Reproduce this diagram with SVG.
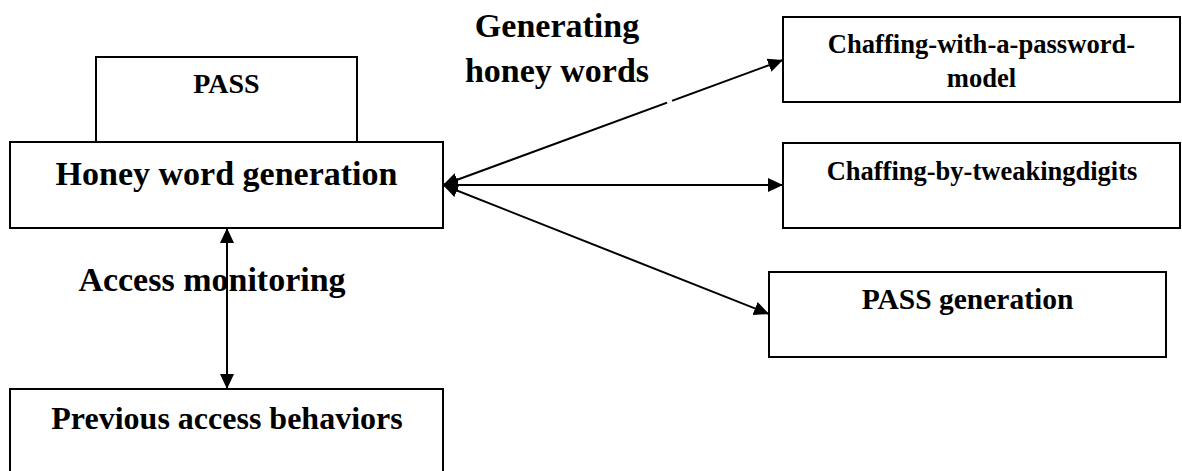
<svg xmlns="http://www.w3.org/2000/svg" width="1182" height="471" viewBox="0 0 1182 471">
<style>
.box{fill:#fff;stroke:#000;stroke-width:2}
.t{font-family:"Liberation Serif","Times New Roman",serif;font-weight:bold;fill:#000;text-anchor:middle}
.ln{stroke:#000;stroke-width:2;fill:none;marker-start:url(#ah);marker-end:url(#ah)}
</style>
<defs>
<marker id="ah" markerUnits="userSpaceOnUse" markerWidth="16" markerHeight="14" refX="15" refY="7" orient="auto-start-reverse" viewBox="0 0 16 14">
<path d="M0,0 L15,7 L0,14 z" fill="#000"/>
</marker>
</defs>
<rect width="1182" height="471" fill="#fff"/>
<g id="pass">
<rect class="box" x="96" y="57" width="261" height="85"/>
<text class="t" x="226.5" y="93" font-size="28">PASS</text>
</g>
<g id="honey">
<rect class="box" x="10" y="142" width="433" height="86"/>
<text class="t" x="226.5" y="185" font-size="34">Honey word generation</text>
</g>
<g id="previous">
<rect class="box" x="10" y="389" width="433" height="100"/>
<text class="t" x="227" y="429" font-size="32">Previous access behaviors</text>
</g>
<g id="chaff-model">
<rect class="box" x="783" y="17" width="397" height="85"/>
<text class="t" x="981.5" y="53" font-size="26.6">Chaffing-with-a-password-</text>
<text class="t" x="981.5" y="87" font-size="26.6">model</text>
</g>
<g id="chaff-digits">
<rect class="box" x="783" y="143" width="397" height="85"/>
<text class="t" x="982" y="180" font-size="26.5">Chaffing-by-tweakingdigits</text>
</g>
<g id="pass-gen">
<rect class="box" x="769" y="272" width="397" height="85"/>
<text class="t" x="967.5" y="309" font-size="29.5">PASS generation</text>
</g>
<g id="connectors">
<line class="ln" x1="443" y1="185" x2="783" y2="60"/>
<line class="ln" x1="443" y1="185" x2="783" y2="185"/>
<line class="ln" x1="443" y1="185" x2="769" y2="314"/>
<line class="ln" x1="227" y1="228" x2="227" y2="389"/>
<line x1="667" y1="102.5" x2="672" y2="100.6" stroke="#fff" stroke-width="3"/>
</g>
<g id="labels">
<text class="t" x="557" y="37" font-size="34">Generating</text>
<text class="t" x="557" y="82" font-size="34">honey words</text>
<text class="t" x="212" y="291" font-size="34">Access monitoring</text>
</g>
</svg>
